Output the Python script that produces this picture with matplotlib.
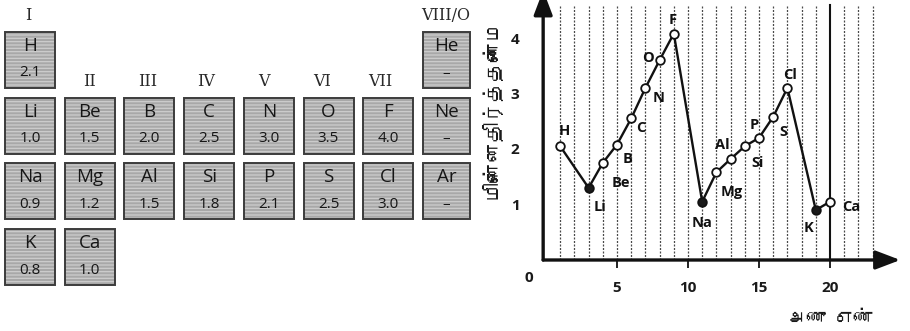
import matplotlib
matplotlib.use("Agg")
import matplotlib.pyplot as plt
from matplotlib import font_manager
from matplotlib.ft2font import FT2Font
from matplotlib.patches import Rectangle

# ---------------------------------------------------------------- data
# Periodic-table block: symbol, group, period and Pauling value (None = noble gas)
tile_symbols = ["H", "He",
                "Li", "Be", "B", "C", "N", "O", "F", "Ne",
                "Na", "Mg", "Al", "Si", "P", "S", "Cl", "Ar",
                "K", "Ca"]
tile_groups = [1, 8,
               1, 2, 3, 4, 5, 6, 7, 8,
               1, 2, 3, 4, 5, 6, 7, 8,
               1, 2]
tile_periods = [1, 1,
                2, 2, 2, 2, 2, 2, 2, 2,
                3, 3, 3, 3, 3, 3, 3, 3,
                4, 4]
tile_values = [2.1, None,
               1.0, 1.5, 2.0, 2.5, 3.0, 3.5, 4.0, None,
               0.9, 1.2, 1.5, 1.8, 2.1, 2.5, 3.0, None,
               0.8, 1.0]
group_labels = ["I", "II", "III", "IV", "V", "VI", "VII", "VIII/O"]

# Electronegativity against atomic number, as plotted on the graph
curve_symbols = ["H", "Li", "Be", "B", "C", "N", "O", "F",
                 "Na", "Mg", "Al", "Si", "P", "S", "Cl", "K", "Ca"]
curve_z = [1, 3, 4, 5, 6, 7, 8, 9, 11, 12, 13, 14, 15, 16, 17, 19, 20]
curve_en = [2.05, 1.30, 1.75, 2.08, 2.55, 3.10, 3.60, 4.08,
            1.05, 1.58, 1.82, 2.05, 2.20, 2.58, 3.10, 0.90, 1.05]
x_ticks = [5, 10, 15, 20]
y_ticks = [1, 2, 3, 4]

y_title = "மின்னெதிர்த்தன்மை"
x_title = "அணு எண்"


# ---------------------------------------------------------------- fonts
def font_with_char(ch):
    """Return the name of an installed font whose charmap covers ch."""
    for entry in font_manager.fontManager.ttflist:
        try:
            if ord(ch) in FT2Font(entry.fname).get_charmap():
                return entry.name
        except Exception:
            continue
    return None


tamil_font = font_with_char("அ") or "DejaVu Sans"

PREBASE = "\u0bc6\u0bc7\u0bc8"


def visual_order(s):
    """Move Tamil pre-base vowel signs in front of their consonant
    (matplotlib lays glyphs out without a shaping engine)."""
    out = list(s)
    for i in range(1, len(out)):
        if out[i] in PREBASE:
            out[i - 1], out[i] = out[i], out[i - 1]
    return "".join(out)


sans = ["Open Sans", "DejaVu Sans"]
serif = ["DejaVu Serif"]

W, H = 910, 331
fig = plt.figure(figsize=(W / 100, H / 100), dpi=100)
fig.patch.set_facecolor("white")

# ---------------------------------------------------------------- table
plt.rcParams["hatch.linewidth"] = 0.9
axt = fig.add_axes([0, 0, 1, 1])
axt.set_xlim(0, W)
axt.set_ylim(H, 0)
axt.axis("off")

col_left0, col_step, tile_w = 5, 59.7, 50
row_top0, row_step, tile_h = 32, 65.7, 56

for sym, g, p, v in zip(tile_symbols, tile_groups, tile_periods, tile_values):
    x = col_left0 + (g - 1) * col_step
    y = row_top0 + (p - 1) * row_step
    w = tile_w - (3 if g == 8 else 0)
    axt.add_patch(Rectangle((x, y), w, tile_h, facecolor="#a8a8a8",
                            edgecolor="#cdcdcd", lw=0, hatch="-----"))
    axt.add_patch(Rectangle((x, y), w, tile_h, fill=False,
                            edgecolor="#3c3c3c", lw=1.4))
    cx = x + w / 2
    axt.text(cx, y + 14, sym, ha="center", va="center", fontsize=13.5,
             family=sans, fontweight="medium", color="#161616")
    label = "–" if v is None else f"{v:.1f}"
    axt.text(cx, y + 41, label, ha="center", va="center", fontsize=11,
             family=sans, color="#161616")

for g, lab in enumerate(group_labels, start=1):
    cx = col_left0 + (g - 1) * col_step + tile_w / 2
    if g in (1, 8):
        axt.text(cx - 2, 15, lab, ha="center", va="center", fontsize=11.5,
                 family=serif, color="#2a2a2a")
    else:
        axt.text(cx - 1.6 * (g - 2), 82, lab, ha="center", va="center",
                 fontsize=11.5, family=serif, color="#2a2a2a")

# ---------------------------------------------------------------- graph
x0_px, sx = 546, 14.2      # pixel of Z = 0, pixels per unit Z
y0_px, sy = 260, 55.5      # pixel of EN = 0, pixels per unit EN
xmin, xmax = -0.6, 25.0
ymin, ymax = 0.0, 4.68
left = (x0_px + xmin * sx) / W
right = (x0_px + xmax * sx) / W
bottom = (H - y0_px) / H
top = (H - y0_px + ymax * sy) / H
ax = fig.add_axes([left, bottom, right - left, top - bottom])
ax.set_xlim(xmin, xmax)
ax.set_ylim(ymin, ymax)
ax.patch.set_alpha(0)
for s in ax.spines.values():
    s.set_visible(False)
ax.spines["left"].set_position(("data", -0.2))

# vertical guide lines at every atomic number
for z in range(1, 24):
    if z == 20:
        ax.plot([z, z], [0, 4.59], color="#111111", lw=1.5, zorder=1)
    else:
        ax.plot([z, z], [0, 4.59], color="#4a4a4a", lw=0.9,
                ls=(0, (1.6, 1.2)), zorder=1)

# axes with arrow heads
ax.annotate("", xy=(24.95, 0), xytext=(-0.2, 0),
            arrowprops=dict(arrowstyle="-|>,head_length=1.0,head_width=0.38",
                            lw=2.4, color="#111111", mutation_scale=15,
                            shrinkA=0, shrinkB=0),
            annotation_clip=False, zorder=3)
ax.annotate("", xy=(-0.2, 4.86), xytext=(-0.2, 0),
            arrowprops=dict(arrowstyle="-|>,head_length=1.0,head_width=0.38",
                            lw=2.4, color="#111111", mutation_scale=15,
                            shrinkA=0, shrinkB=0),
            annotation_clip=False, zorder=3)

ax.set_xticks(x_ticks)
ax.set_yticks(y_ticks)
ax.tick_params(axis="x", length=6, width=1.3, color="#111111", pad=9,
               labelsize=11)
ax.tick_params(axis="y", length=0, pad=17, labelsize=11)
for lab in ax.get_xticklabels() + ax.get_yticklabels():
    lab.set_family(sans)
    lab.set_fontweight("bold")
    lab.set_color("#1a1a1a")
ax.text(-1.2, -0.33, "0", ha="center", va="center", fontsize=11,
        family=sans, fontweight="bold", color="#1a1a1a", clip_on=False)

# curve and markers
ax.plot(curve_z, curve_en, color="#111111", lw=1.7, zorder=4)
filled = {"Li", "Na", "K"}
for sym, z, e in zip(curve_symbols, curve_z, curve_en):
    fc = "#1a1a1a" if sym in filled else "white"
    ax.plot(z, e, "o", ms=6.2, mfc=fc, mec="#111111", mew=1.3, zorder=5)

label_offsets = {
    "H": (4, 15), "Li": (11, -19), "Be": (18, -20), "B": (11, -14),
    "C": (10, -10), "N": (13, -10), "O": (-12, 2), "F": (-1, 14),
    "Na": (0, -21), "Mg": (15, -20), "Al": (-8, 14), "Si": (13, -17),
    "P": (-5, 13), "S": (10, -15), "Cl": (3, 13), "K": (-7, -18),
    "Ca": (21, -5),
}
for sym, z, e in zip(curve_symbols, curve_z, curve_en):
    dx, dy = label_offsets[sym]
    ax.annotate(sym, (z, e), xytext=(dx, dy), textcoords="offset pixels",
                ha="center", va="center", fontsize=10.5, family=sans,
                fontweight="bold", color="#111111", zorder=6,
                annotation_clip=False)

# axis titles
fig.text(491 / W, 1 - 108 / H, visual_order(y_title), rotation=90,
         ha="center", va="center", fontsize=14.5,
         family=[tamil_font, "DejaVu Sans"], color="#1a1a1a")
fig.text(830 / W, 1 - 318 / H, visual_order(x_title), ha="center",
         va="center", fontsize=13.5, family=[tamil_font, "DejaVu Sans"],
         color="#1a1a1a")

fig.savefig("out.png", dpi=100, facecolor="white")
